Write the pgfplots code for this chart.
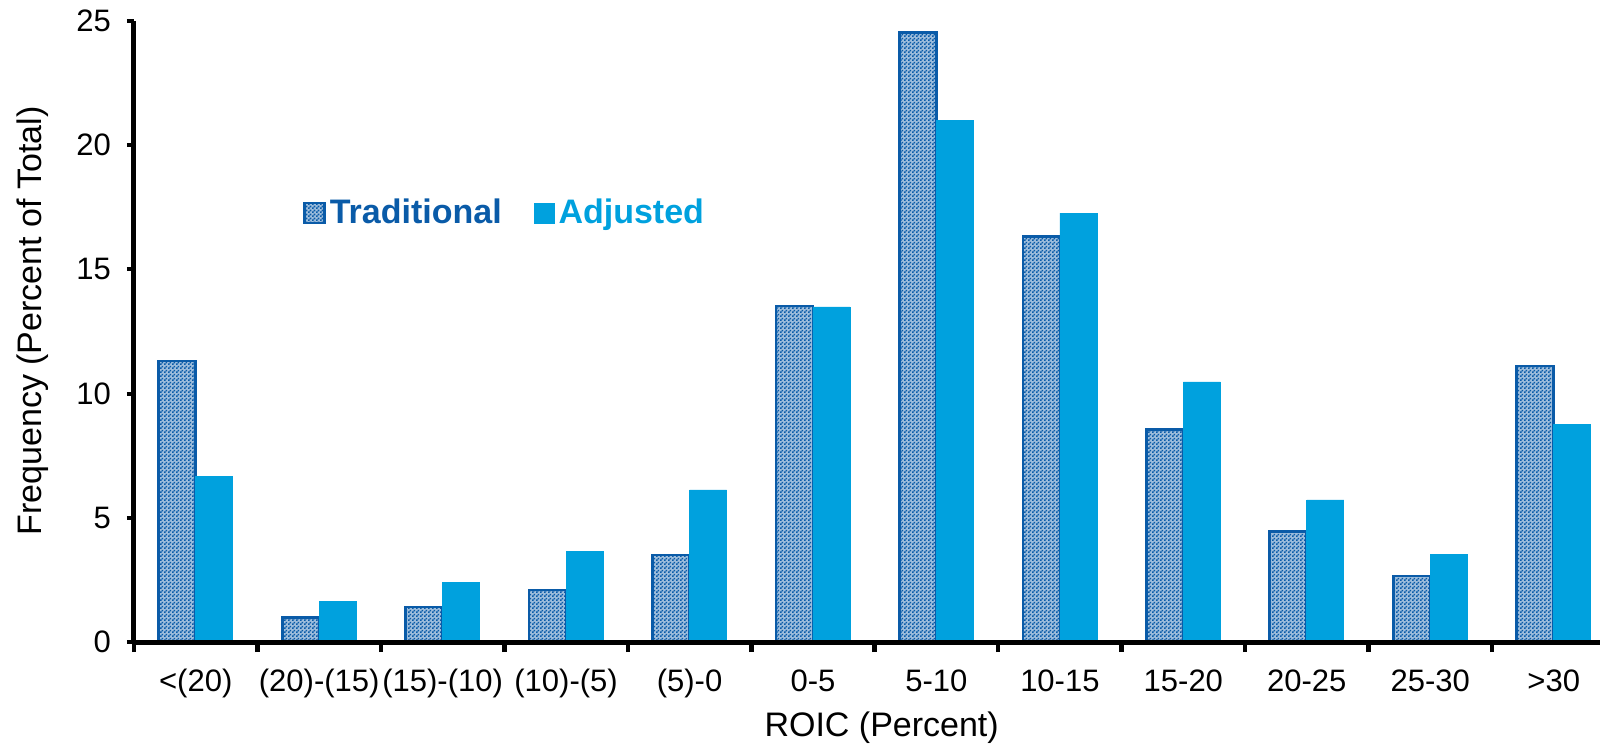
\documentclass[border=0pt]{standalone}
\usepackage{fontspec}
\setmainfont{Liberation Sans}
\usepackage{pgfplots}
\usepackage{pgfplotstable}
\pgfplotsset{compat=1.18}
\usetikzlibrary{patterns}
\definecolor{tradblue}{HTML}{0A5BA8}
\definecolor{adjblue}{HTML}{00A1DE}
\pgfdeclarepatternformonly{finecheck}{\pgfpointorigin}{\pgfqpoint{2pt}{2pt}}{\pgfqpoint{2pt}{2pt}}{%
  \pgfpathrectangle{\pgfpointorigin}{\pgfqpoint{1pt}{1pt}}%
  \pgfpathrectangle{\pgfqpoint{1pt}{1pt}}{\pgfqpoint{1pt}{1pt}}%
  \pgfusepath{fill}}
\pgfplotstableread{
x trad adj
0 11.31 6.68
1 1.00 1.65
2 1.41 2.38
3 2.09 3.66
4 3.50 6.12
5 13.53 13.49
6 24.53 21.00
7 16.32 17.27
8 8.57 10.47
9 4.44 5.72
10 2.66 3.54
11 11.11 8.74
}\data
\begin{document}
\begin{tikzpicture}
\begin{axis}[
  at={(0,0)}, anchor=south west,
  scale only axis, width=733pt, height=310.5pt,
  axis x line=bottom, axis y line=left,
  axis line style={-, line width=2.5pt, black},
  axis on top,
  xmin=-0.5, xmax=11.375, ymin=0, ymax=25,
  xtick={0,...,11},
  xticklabels={<(20),(20)-(15),(15)-(10),(10)-(5),(5)-0,0-5,5-10,10-15,15-20,20-25,25-30,>30},
  minor xtick={-0.5,0.5,...,10.5},
  ytick={0,5,...,25},
  tick align=outside,
  major tick length=3.5pt, minor tick length=5pt,
  tick style={black, line width=2pt},
  major x tick style={draw=none},
  minor x tick style={line width=2.3pt},
  ticklabel style={font=\fontsize{15.5}{18}\selectfont},
  /pgf/number format/assume math mode=true,
  yticklabel style={xshift=-4.5pt},
  xticklabel style={anchor=base, yshift=-21pt},
  xlabel={ROIC (Percent)}, ylabel={Frequency (Percent of Total)},
  label style={font=\fontsize{17}{20}\selectfont},
  xlabel style={at={(axis description cs:0.51,-0.1516)}, anchor=base},
  ylabel style={at={(axis description cs:-0.0689,0.517)}, anchor=center},
  ybar=0pt, bar width=18.5pt,
  legend columns=2,
  legend image code/.code={\draw[#1] (0pt,-5pt) rectangle (10pt,5pt);},
  legend style={at={(axis description cs:0.1153,0.6908)}, anchor=west,
    draw=none, fill=none, inner sep=0pt, outer sep=0pt,
    font=\bfseries\fontsize{17}{20}\selectfont,
    /tikz/every even column/.append style={column sep=14pt}},
]
\addplot[draw=tradblue, line width=1.4pt, fill=tradblue!40!white,
  postaction={pattern=finecheck, pattern color=tradblue}]
  table[x=x, y=trad] {\data};
\addlegendentry{\textcolor{tradblue}{Traditional}}
\addplot[draw=adjblue, line width=0.4pt, fill=adjblue]
  table[x=x, y=adj] {\data};
\addlegendentry{\textcolor{adjblue}{Adjusted}}
\end{axis}
\pgfresetboundingbox
\useasboundingbox (-67pt,-53.5pt) rectangle (733pt,321pt);
\end{tikzpicture}
\end{document}
